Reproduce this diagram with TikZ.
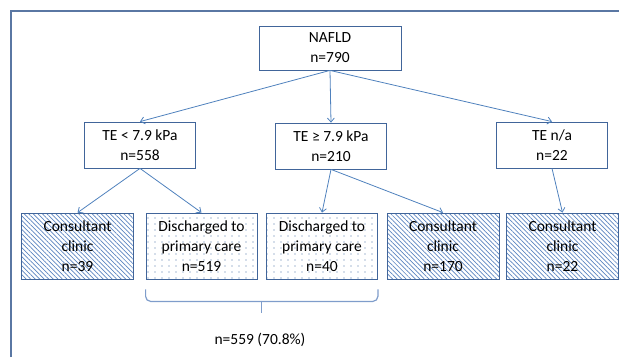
\documentclass[tikz,border=0pt]{standalone}
\usepackage{fontspec}
\setmainfont{Carlito}
\usepackage{tikz}
\usetikzlibrary{positioning, arrows.meta, calc, patterns, patterns.meta}
\definecolor{linkcolor}{HTML}{4F81BD}
\definecolor{boxcolor}{HTML}{41659A}
\definecolor{hatchcolor}{HTML}{5B84C0}
\definecolor{dotcolor}{HTML}{4A6FA5}
\definecolor{bracecolor}{HTML}{7F9DCB}
\definecolor{framecolor}{HTML}{5A77A3}

\tikzdeclarepattern{
  name=sparsedots, type=uncolored,
  bottom left={(-1pt,-1pt)}, top right={(7pt,6pt)},
  tile size={(7pt,6pt)},
  code={\fill (1pt,1pt) circle (0.7pt);}
}

\tikzset{
  mainbox/.style={draw=boxcolor, line width=0.8pt, fill=white, align=center, inner sep=0pt},
  rootbox/.style={mainbox, minimum width=142pt, minimum height=44pt},
  splitbox/.style={mainbox, minimum width=111pt, minimum height=46pt},
  clinicbox/.style={mainbox, minimum width=112pt, minimum height=66pt,
    pattern={Lines[angle=-45, distance=3.2pt, line width=0.7pt]}, pattern color=hatchcolor},
  carebox/.style={mainbox, minimum width=111pt, minimum height=66pt,
    pattern=sparsedots, pattern color=dotcolor},
  link/.style={draw=linkcolor, line width=0.8pt, -{Straight Barb[length=4pt,width=7pt]}}
}

\begin{document}
\begin{tikzpicture}[x=1pt, y=-1pt, every node/.style={font=\fontsize{15.5}{20}\selectfont}]
  \useasboundingbox (0,0) rectangle (619,357);
  % outer frame, clipped on the right and bottom
  \draw[framecolor, line width=1.3pt] (11,357) -- (11,11) -- (619,11);

  % top level
  \node[rootbox] (nafld) at (330,48) {NAFLD\\n=790};

  % split by transient elastography
  \node[splitbox] (telow)  at (140,145) {TE < 7.9 kPa\\n=558};
  \node[splitbox] (tehigh) at (331,146) {TE ≥ 7.9 kPa\\n=210};
  \node[splitbox] (tena)   at (552,145) {TE n/a\\n=22};

  % outcomes
  \node[clinicbox] (clinA) at (77.5,246) {Consultant\\clinic\\n=39};
  \node[carebox]   (careA) at (201.5,246) {Discharged to\\primary care\\n=519};
  \node[carebox]   (careB) at (322,246) {Discharged to\\primary care\\n=40};
  \node[clinicbox] (clinB) at (443,246) {Consultant\\clinic\\n=170};
  \node[clinicbox] (clinC) at (562.5,246) {Consultant\\clinic\\n=22};

  % arrows
  \foreach \a/\b in {nafld/telow, nafld/tehigh, nafld/tena, telow/clinA, telow/careA,
                     tehigh/careB, tehigh/clinB, tena/clinC} {
    \draw[link] (\a.south) -- (\b.north);
  }

  % brace over the two discharged groups
  \coordinate (braceL) at ([yshift=-10pt]careA.south west);
  \coordinate (braceR) at ([yshift=-10pt]careB.south east);
  \coordinate (braceM) at ($(braceL)!0.5!(braceR)+(0,24)$);
  \draw[bracecolor, line width=1.2pt, rounded corners=5pt]
    (braceL) -- ++(0,12) -| (braceR);
  \draw[bracecolor, line width=1.2pt] ($(braceL)!0.5!(braceR)+(0,12)$) -- (braceM);
  \node (total) at (260,340) {n=559 (70.8\%)};
\end{tikzpicture}
\end{document}
